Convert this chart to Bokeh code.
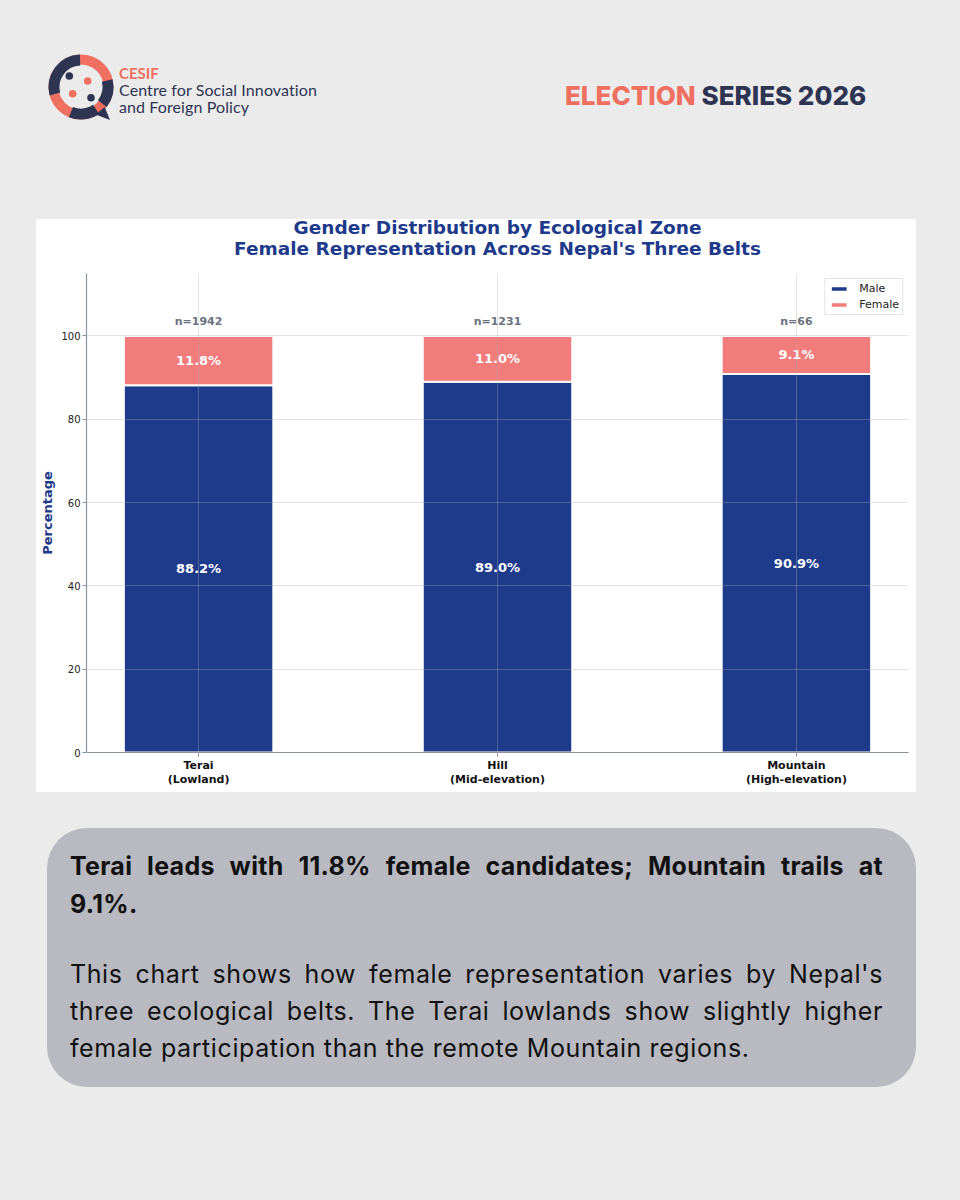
import math
from bokeh.plotting import figure
from bokeh.models import ColumnDataSource, Range1d, FixedTicker, Div, Spacer, Title
from bokeh.layouts import column, row
from bokeh.core.properties import value
from bokeh.embed import file_html
from bokeh.resources import INLINE

# ---------------- data ----------------
zones = ["Terai\n(Lowland)", "Hill\n(Mid-elevation)", "Mountain\n(High-elevation)"]
male_pct = [88.2, 89.0, 90.9]
female_pct = [11.8, 11.0, 9.1]
n_counts = [1942, 1231, 66]
y_ticks = [0, 20, 40, 60, 80, 100]
series = ["Male", "Female"]
title_lines = ["Gender Distribution by Ecological Zone",
               "Female Representation Across Nepal's Three Belts"]

NAVY = "#1e3a8a"
CORAL = "#f27c7b"
FONT = "DejaVu Sans"
PAGE_BG = "#ebebeb"

xs = list(range(len(zones)))
src = ColumnDataSource(dict(x=xs, male=male_pct, female=female_pct))

Y_MAX = 115
TOP_EXTRA = 6   # transparent strip above the white chart panel
p = figure(width=880, height=573 + TOP_EXTRA,
           x_range=Range1d(-0.375, 2.375), y_range=Range1d(0, Y_MAX),
           output_backend="svg", toolbar_location=None, title=None,
           min_border_left=50, min_border_right=8, min_border_top=54 + TOP_EXTRA,
           min_border_bottom=40,
           background_fill_color="white", border_fill_color="white", border_fill_alpha=0,
           outline_line_color=None)

p.vbar_stack(["male", "female"], x="x", width=0.5, source=src,
             color=[NAVY, CORAL], line_color="white", line_width=2,
             legend_label=series)

male_lab = ColumnDataSource(dict(x=xs, y=[m / 2 for m in male_pct],
                                 t=[f"{m:.1f}%" for m in male_pct]))
female_lab = ColumnDataSource(dict(x=xs, y=[m + f / 2 for m, f in zip(male_pct, female_pct)],
                                   t=[f"{f:.1f}%" for f in female_pct]))
n_lab = ColumnDataSource(dict(x=xs, y=[m + f + 2 for m, f in zip(male_pct, female_pct)],
                              t=[f"n={n}" for n in n_counts]))

for s in (male_lab, female_lab):
    p.text(x="x", y="y", text="t", source=s, text_color="white",
           text_font=value(FONT), text_font_style="bold", text_font_size="13px",
           text_align="center", text_baseline="middle")
p.text(x="x", y="y", text="t", source=n_lab, text_color="#6b7280",
       text_font=value(FONT), text_font_style="bold", text_font_size="11px",
       text_align="center", text_baseline="bottom")

# two centred title lines (first added sits nearest the frame)
for txt, so in zip(reversed(title_lines), [29.6, -34.8]):
    p.add_layout(Title(text=txt, align="center", standoff=so,
                       text_font=FONT, text_font_size="18.5px", text_font_style="bold",
                       text_color=NAVY), "above")

# grid
p.xgrid.ticker = FixedTicker(ticks=xs)
p.ygrid.ticker = FixedTicker(ticks=y_ticks)
for g in (p.xgrid, p.ygrid):
    g.grid_line_color = "#b0b0b0"
    g.grid_line_alpha = 0.35
    g.grid_line_width = 1
    g.level = "annotation"

AX = "#8b93a1"
# x axis
p.xaxis.ticker = FixedTicker(ticks=xs)
p.xaxis.major_label_overrides = {i: z for i, z in enumerate(zones)}
p.xaxis.major_label_text_font = FONT
p.xaxis.major_label_text_font_style = "bold"
p.xaxis.major_label_text_font_size = "11px"
p.xaxis.major_label_text_color = "#111111"
p.xaxis.major_label_text_line_height = 1.1
p.xaxis.major_label_standoff = 2
# y axis
p.yaxis.ticker = FixedTicker(ticks=y_ticks)
p.yaxis.major_label_text_font = FONT
p.yaxis.major_label_text_font_size = "10px"
p.yaxis.major_label_text_color = "#222222"
p.yaxis.major_label_standoff = 2
p.yaxis.axis_label = "Percentage"
p.yaxis.axis_label_text_font = FONT
p.yaxis.axis_label_text_font_size = "13px"
p.yaxis.axis_label_text_font_style = "bold"
p.yaxis.axis_label_text_color = NAVY
p.yaxis.axis_label_standoff = 3
for ax in (p.xaxis, p.yaxis):
    ax.axis_line_color = AX
    ax.axis_line_width = 1.2
    ax.major_tick_line_color = AX
    ax.major_tick_out = 4
    ax.major_tick_in = 0
    ax.minor_tick_out = 0
    ax.minor_tick_in = 0

# legend
lg = p.legend[0]
lg.location = "top_right"
lg.margin = 5
lg.padding = 3
lg.spacing = 3
lg.glyph_width = 21
lg.glyph_height = 7
lg.label_height = 13
lg.label_standoff = 10
lg.label_text_font = FONT
lg.label_text_font_size = "11px"
lg.label_text_color = "#222222"
lg.border_line_color = "#cccccc"
lg.border_line_width = 1
lg.background_fill_color = "white"
lg.background_fill_alpha = 0.85

chart = column(p, width=880, height=573 + TOP_EXTRA, margin=(0, 0, 0, 0),
               styles={"background": f"linear-gradient(to bottom, {PAGE_BG} {TOP_EXTRA}px, #ffffff {TOP_EXTRA}px)"})

# ---------------- header ----------------
def arc(cx, cy, r, a1, a2):
    x1 = cx + r * math.cos(math.radians(a1)); y1 = cy - r * math.sin(math.radians(a1))
    x2 = cx + r * math.cos(math.radians(a2)); y2 = cy - r * math.sin(math.radians(a2))
    large = 1 if abs(a1 - a2) > 180 else 0
    sweep = 1 if a1 > a2 else 0
    return f"M{x1:.2f},{y1:.2f} A{r},{r} 0 {large} {sweep} {x2:.2f},{y2:.2f}"

LC = "#ef6f60"
LN = "#2e3553"
c = 36
navy_arcs = "".join(
    f'<path d="{arc(c, c, 27, a1, a2)}" stroke="{LN}" stroke-width="11" fill="none"/>'
    for a1, a2 in [(195, 92), (14, -38), (-56, -112)])
tail = f'<polygon points="59.7,55.9 50.6,63.4 65,69" fill="{LN}"/>'
dots = (f'<circle cx="{c-11.7}" cy="{c-11}" r="3.8" fill="{LN}"/>'
        f'<circle cx="{c+6.7}" cy="{c-6}" r="3.8" fill="{LC}"/>'
        f'<circle cx="{c-8.3}" cy="{c+6.7}" r="3.8" fill="{LC}"/>'
        f'<circle cx="{c+10}" cy="{c+10.7}" r="3.8" fill="{LN}"/>')
logo = (f'<svg width="72" height="72" viewBox="0 0 72 72" style="position:absolute;left:45px;top:51px;">'
        f'<circle cx="{c}" cy="{c}" r="27.5" stroke="{LC}" stroke-width="10" fill="none"/>'
        f'{navy_arcs}{tail}{dots}</svg>')

HEADER_H = 219 - TOP_EXTRA
TXT = "position:absolute;left:119px;font-family:Lato,sans-serif;line-height:14px;white-space:nowrap;"
header_html = f"""
<div style="position:relative;width:960px;height:{HEADER_H}px;">
  {logo}
  <div style="{TXT}top:66px;font-size:15px;font-weight:700;color:{LC};">CESIF</div>
  <div style="{TXT}top:83px;font-size:16px;color:{LN};letter-spacing:0.1px;">Centre for Social Innovation</div>
  <div style="{TXT}top:100px;font-size:16px;color:{LN};letter-spacing:0.1px;">and Foreign Policy</div>
  <div style="position:absolute;left:565px;top:83px;font-family:Inter,sans-serif;font-weight:800;font-size:26px;line-height:26px;white-space:nowrap;">
    <span style="color:{LC};">ELECTION</span> <span style="color:{LN};">SERIES 2026</span>
  </div>
</div>
"""
header = Div(text=header_html, width=960, height=HEADER_H, margin=(0, 0, 0, 0))

# ---------------- text box ----------------
J = "text-align:justify;text-align-last:justify;white-space:nowrap;"
box_html = f"""
<div style="box-sizing:border-box;width:869px;height:259px;background:#b8b9c1;border-radius:40px;padding:19px 33px 0 23px;font-family:Inter,sans-serif;color:#111111;">
  <div style="font-weight:700;font-size:25px;line-height:38px;letter-spacing:0.3px;">
    <div style="{J}">Terai leads with {female_pct[0]:.1f}% female candidates; Mountain trails at</div>
    <div>{female_pct[2]:.1f}%.</div>
  </div>
  <div style="font-size:25px;line-height:37px;margin-top:33px;letter-spacing:0.6px;">
    <div style="{J}">This chart shows how female representation varies by Nepal's</div>
    <div style="{J}">three ecological belts. The Terai lowlands show slightly higher</div>
    <div>female participation than the remote Mountain regions.</div>
  </div>
</div>
"""
box = Div(text=box_html, width=869, height=259, margin=(0, 0, 0, 0))

layout = column(
    header,
    row(Spacer(width=36, height=573 + TOP_EXTRA), chart, margin=(0, 0, 0, 0)),
    Spacer(width=960, height=36),
    row(Spacer(width=47, height=259), box, margin=(0, 0, 0, 0)),
    width=960, height=1200,
    styles={"background-color": PAGE_BG},
)

html = file_html(layout, INLINE, title="Gender Distribution by Ecological Zone")
html = html.replace("</head>", f"<style>html,body{{background:{PAGE_BG};margin:0;padding:0;}}</style></head>", 1)
open("out.html", "w").write(html)
